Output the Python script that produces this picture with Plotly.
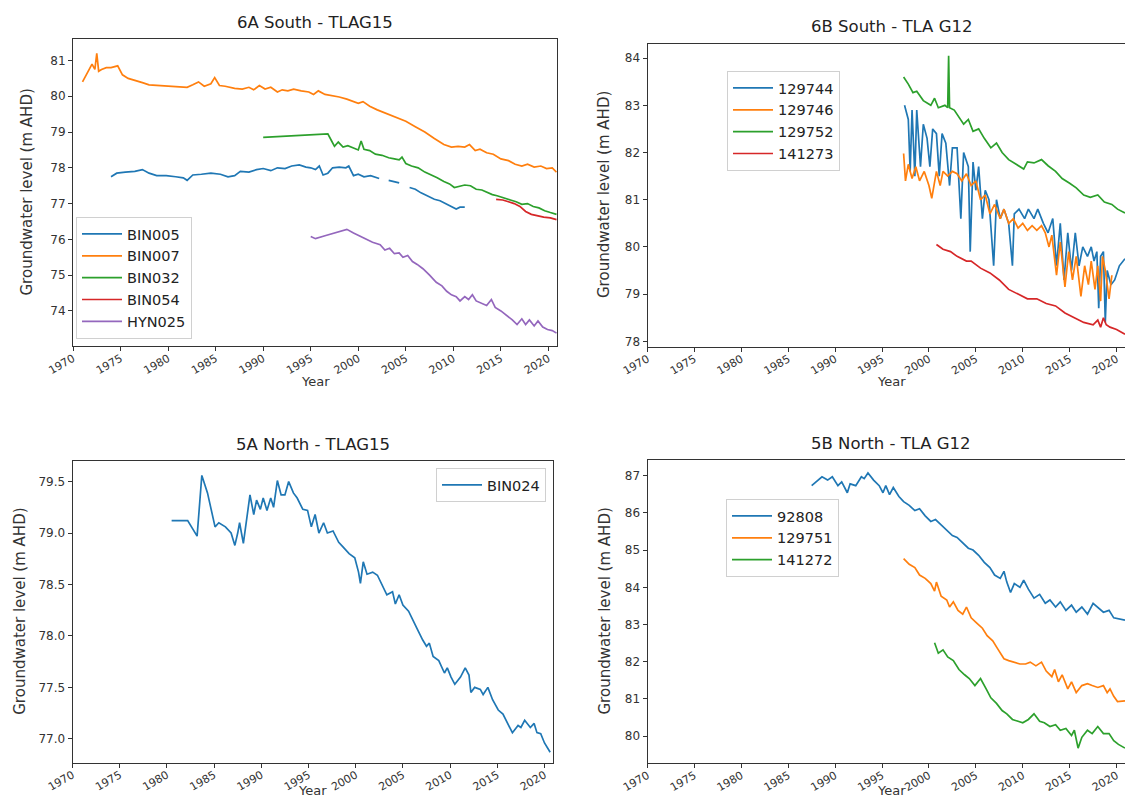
import plotly.graph_objects as go

# ---------------- 6A South - TLAG15 ----------------
bin005_year = [1974.0, 1974.6, 1975.5, 1976.5, 1977.3, 1978.0, 1978.8, 1979.8, 1980.8, 1981.6, 1982.0, 1982.6,
               1983.5, 1984.5, 1985.5, 1986.3, 1987.0, 1987.6, 1988.5, 1989.3, 1990.0, 1990.8, 1991.5, 1992.3,
               1993.0, 1993.8, 1994.5, 1995.0, 1995.5, 1995.9, 1996.3, 1996.8, 1997.3, 1998.0, 1998.7, 1999.0,
               1999.5, 2000.0, 2000.6, 2001.3, 2002.2, 2002.7, 2003.2, 2003.8, 2004.3, 2004.8, 2005.4, 2006.0,
               2006.6, 2007.3, 2008.0, 2008.6, 2009.3, 2009.8, 2010.3, 2010.7, 2011.2]
bin005_level = [77.75, 77.85, 77.88, 77.90, 77.95, 77.85, 77.78, 77.78, 77.75, 77.72, 77.65, 77.80,
                77.82, 77.85, 77.82, 77.75, 77.78, 77.90, 77.88, 77.95, 77.98, 77.92, 78.00, 77.98,
                78.05, 78.08, 78.02, 78.00, 77.95, 78.05, 77.80, 77.85, 78.00, 78.02, 78.00, 78.05,
                77.78, 77.82, 77.75, 77.78, 77.70, None, 77.65, 77.62, 77.58, None, 77.45, 77.40,
                77.30, 77.22, 77.12, 77.08, 76.98, 76.92, 76.85, 76.90, 76.90]

bin007_year = [1971.0, 1971.5, 1972.0, 1972.3, 1972.5, 1972.7, 1973.0, 1973.5, 1974.0, 1974.7, 1975.2, 1975.8,
               1976.5, 1977.3, 1978.0, 1979.0, 1980.0, 1981.0, 1982.0, 1982.6, 1983.2, 1983.8, 1984.5, 1984.9,
               1985.4, 1986.0, 1987.0, 1987.8, 1988.5, 1989.0, 1989.6, 1990.2, 1990.8, 1991.5, 1992.0, 1992.6,
               1993.2, 1994.0, 1994.8, 1995.3, 1995.8, 1996.5, 1997.3, 1998.0, 1998.8, 1999.5, 2000.0, 2000.5,
               2001.2, 2002.0, 2003.0, 2004.0, 2005.0, 2006.0, 2007.0, 2008.0, 2009.0, 2009.8, 2010.5, 2011.2,
               2011.7, 2012.3, 2012.8, 2013.5, 2014.2, 2015.0, 2015.8, 2016.5, 2017.2, 2017.8, 2018.5, 2019.2,
               2019.8, 2020.4, 2020.85]
bin007_level = [80.40, 80.65, 80.90, 80.75, 81.20, 80.70, 80.75, 80.80, 80.80, 80.85, 80.60, 80.50,
                80.45, 80.38, 80.32, 80.30, 80.28, 80.28, 80.25, 80.32, 80.40, 80.28, 80.35, 80.52,
                80.30, 80.28, 80.22, 80.20, 80.25, 80.18, 80.30, 80.20, 80.25, 80.12, 80.18, 80.15,
                80.20, 80.15, 80.12, 80.05, 80.15, 80.05, 80.02, 79.98, 79.92, 79.85, 79.80, 79.85,
                79.72, 79.62, 79.52, 79.40, 79.30, 79.15, 79.00, 78.82, 78.65, 78.58, 78.60, 78.58,
                78.65, 78.48, 78.52, 78.42, 78.38, 78.25, 78.20, 78.10, 78.05, 78.10, 78.02, 78.05,
                77.98, 78.00, 77.88]

bin032_year = [1990.0, 1992.0, 1994.0, 1996.0, 1996.8, 1997.2, 1997.5, 1997.9, 1998.4, 1998.9, 1999.5, 2000.0,
               2000.3, 2000.6, 2001.2, 2001.8, 2002.5, 2003.2, 2003.8, 2004.3, 2004.6, 2005.0, 2005.6, 2006.3,
               2007.0, 2007.7, 2008.3, 2009.0, 2009.6, 2010.1, 2010.7, 2011.2, 2011.8, 2012.4, 2013.0, 2013.6,
               2014.1, 2014.6, 2015.3, 2016.0, 2016.6, 2017.2, 2017.8, 2018.4, 2019.0, 2019.6, 2020.2, 2020.85]
bin032_level = [78.85, 78.88, 78.90, 78.93, 78.95, 78.75, 78.60, 78.72, 78.58, 78.62, 78.55, 78.50,
                78.75, 78.52, 78.48, 78.38, 78.35, 78.28, 78.25, 78.22, 78.30, 78.12, 78.05, 78.00,
                77.88, 77.80, 77.72, 77.62, 77.55, 77.45, 77.48, 77.52, 77.50, 77.40, 77.38, 77.30,
                77.25, 77.22, 77.15, 77.10, 77.05, 76.98, 77.00, 76.92, 76.88, 76.80, 76.75, 76.70]

bin054_year = [2014.5, 2015.2, 2015.8, 2016.4, 2017.0, 2017.6, 2018.2, 2018.8, 2019.5, 2020.2, 2020.85]
bin054_level = [77.12, 77.10, 77.05, 77.00, 76.92, 76.78, 76.70, 76.66, 76.62, 76.60, 76.55]

hyn025_year = [1995.0, 1995.5, 1996.5, 1997.5, 1998.3, 1998.8, 1999.5, 2000.5, 2001.5, 2002.3, 2002.8, 2003.3,
               2003.8, 2004.3, 2004.7, 2005.2, 2005.7, 2006.2, 2006.8, 2007.5, 2008.2, 2008.8, 2009.3, 2009.8,
               2010.3, 2010.7, 2011.2, 2011.6, 2012.0, 2012.4, 2013.0, 2013.5, 2014.0, 2014.4, 2015.0, 2015.6,
               2016.2, 2016.7, 2017.2, 2017.6, 2018.0, 2018.5, 2018.9, 2019.4, 2019.9, 2020.4, 2020.85]
hyn025_level = [76.08, 76.02, 76.10, 76.18, 76.25, 76.28, 76.18, 76.05, 75.92, 75.85, 75.70, 75.75,
                75.60, 75.62, 75.50, 75.55, 75.38, 75.30, 75.18, 75.00, 74.80, 74.70, 74.55, 74.45,
                74.40, 74.28, 74.40, 74.32, 74.45, 74.28, 74.22, 74.15, 74.32, 74.10, 74.00, 73.88,
                73.75, 73.62, 73.78, 73.62, 73.75, 73.58, 73.72, 73.55, 73.48, 73.45, 73.38]

# ---------------- 6B South - TLA G12 ----------------
b129744_year = [1997.4, 1997.8, 1998.0, 1998.2, 1998.5, 1998.7, 1999.1, 1999.4, 1999.8, 2000.1, 2000.4, 2000.8,
                2001.1, 2001.4, 2001.8, 2002.2, 2002.5, 2003.0, 2003.4, 2003.7, 2004.2, 2004.4, 2004.7, 2005.0,
                2005.3, 2005.7, 2006.0, 2006.4, 2006.9, 2007.2, 2007.6, 2008.0, 2008.5, 2008.9, 2009.1, 2009.6,
                2010.2, 2010.6, 2011.2, 2011.6, 2012.2, 2012.7, 2013.2, 2013.6, 2014.0, 2014.4, 2014.8, 2015.2,
                2015.6, 2016.0, 2016.4, 2016.9, 2017.3, 2017.6, 2017.9, 2018.1, 2018.3, 2018.6, 2018.8, 2019.0,
                2019.4, 2019.8, 2020.3, 2020.9]
b129744_level = [83.00, 82.70, 81.60, 82.90, 81.50, 82.90, 81.70, 82.60, 82.30, 81.70, 82.50, 82.40,
                 81.50, 82.40, 82.20, 81.30, 82.10, 82.10, 80.60, 82.00, 81.70, 79.90, 81.80, 81.20,
                 81.70, 80.60, 81.20, 81.00, 79.60, 81.00, 80.60, 80.80, 80.50, 79.60, 80.70, 80.80,
                 80.60, 80.80, 80.60, 80.80, 80.50, 80.30, 80.60, 79.60, 80.50, 79.30, 80.30, 79.50,
                 80.30, 79.60, 80.00, 79.80, 80.00, 79.70, 79.90, 78.70, 79.80, 79.90, 78.40, 79.50,
                 79.20, 79.30, 79.60, 79.75]

b129746_year = [1997.3, 1997.5, 1997.8, 1998.2, 1998.6, 1999.0, 1999.5, 2000.0, 2000.3, 2000.8, 2001.2, 2001.5,
                2002.0, 2002.5, 2003.0, 2003.5, 2004.0, 2004.5, 2005.0, 2005.5, 2006.0, 2006.5, 2007.0, 2007.6,
                2008.0, 2008.5, 2009.0, 2009.5, 2010.0, 2010.5, 2011.0, 2011.5, 2012.0, 2012.4, 2012.8, 2013.1,
                2013.6, 2014.0, 2014.5, 2014.9, 2015.3, 2015.7, 2016.2, 2016.6, 2017.0, 2017.3, 2017.7, 2018.0,
                2018.3, 2018.5, 2018.8, 2019.2, 2019.5]
b129746_level = [81.98, 81.40, 81.75, 81.45, 81.70, 81.40, 81.60, 81.30, 81.03, 81.60, 81.30, 81.60,
                 81.50, 81.60, 81.55, 81.40, 81.55, 81.30, 81.40, 81.00, 81.10, 80.70, 80.90, 80.60,
                 80.80, 80.50, 80.60, 80.40, 80.50, 80.35, 80.45, 80.35, 80.45, 80.30, 80.00, 80.25,
                 79.40, 80.10, 79.15, 79.90, 79.30, 79.80, 78.95, 79.60, 79.20, 79.70, 79.10, 79.60,
                 78.85, 79.80, 79.50, 78.90, 79.40]

b129752_year = [1997.3, 1997.8, 1998.3, 1998.7, 1999.4, 2000.2, 2000.6, 2001.0, 2001.7, 2002.0, 2002.1, 2002.2,
                2002.7, 2003.2, 2003.7, 2004.2, 2004.7, 2005.3, 2005.9, 2006.6, 2007.2, 2007.8, 2008.5, 2009.3,
                2010.1, 2010.5, 2011.2, 2012.0, 2012.7, 2013.5, 2014.2, 2015.0, 2015.7, 2016.5, 2017.2, 2018.0,
                2018.7, 2019.5, 2020.1, 2020.9]
b129752_level = [83.60, 83.45, 83.27, 83.30, 83.10, 83.00, 83.15, 82.95, 83.00, 82.95, 84.05, 82.95,
                 82.90, 82.75, 82.60, 82.70, 82.45, 82.50, 82.30, 82.10, 82.20, 82.00, 81.85, 81.75,
                 81.65, 81.80, 81.78, 81.85, 81.72, 81.60, 81.45, 81.35, 81.25, 81.10, 81.05, 81.10,
                 80.95, 80.90, 80.80, 80.72]

b141273_year = [2000.8, 2001.5, 2002.3, 2003.0, 2004.0, 2004.5, 2005.5, 2006.5, 2007.5, 2008.5, 2009.5, 2010.5,
                2011.5, 2012.5, 2013.5, 2014.5, 2015.5, 2016.5, 2017.5, 2018.0, 2018.3, 2018.6, 2018.9, 2019.3,
                2020.0, 2020.9]
b141273_level = [80.05, 79.95, 79.90, 79.80, 79.70, 79.70, 79.55, 79.45, 79.30, 79.10, 79.00, 78.90,
                 78.90, 78.80, 78.75, 78.60, 78.50, 78.40, 78.35, 78.45, 78.30, 78.50, 78.35, 78.30,
                 78.25, 78.15]

# ---------------- 5A North - TLAG15 ----------------
bin024_year = [1980.5, 1982.2, 1983.2, 1983.7, 1984.3, 1985.1, 1985.5, 1986.2, 1986.8, 1987.2, 1987.5, 1987.7,
               1988.1, 1988.5, 1988.8, 1989.2, 1989.5, 1989.9, 1990.2, 1990.6, 1991.0, 1991.3, 1991.7, 1992.1,
               1992.5, 1992.9, 1993.4, 1993.8, 1994.4, 1994.9, 1995.3, 1995.7, 1996.1, 1996.6, 1997.0, 1997.6,
               1998.2, 1998.7, 1999.3, 1999.9, 2000.3, 2000.5, 2000.8, 2001.2, 2001.8, 2002.3, 2002.9, 2003.3,
               2003.9, 2004.2, 2004.6, 2005.0, 2005.6, 2006.0, 2006.5, 2007.1, 2007.5, 2007.8, 2008.2, 2008.8,
               2009.4, 2009.7, 2010.1, 2010.5, 2011.1, 2011.6, 2012.0, 2012.2, 2012.6, 2013.2, 2013.5, 2014.0,
               2014.5, 2015.1, 2015.6, 2016.2, 2016.6, 2017.2, 2017.5, 2017.9, 2018.5, 2018.9, 2019.2, 2019.6,
               2020.0, 2020.6]
bin024_level = [79.12, 79.12, 78.97, 79.56, 79.39, 79.06, 79.10, 79.06, 79.00, 78.88, 79.00, 79.10,
                78.90, 79.18, 79.37, 79.18, 79.32, 79.23, 79.34, 79.22, 79.34, 79.25, 79.51, 79.37,
                79.37, 79.50, 79.39, 79.34, 79.23, 79.22, 79.06, 79.18, 79.00, 79.10, 79.00, 79.02,
                78.91, 78.86, 78.80, 78.76, 78.62, 78.51, 78.72, 78.60, 78.62, 78.59, 78.48, 78.40,
                78.43, 78.31, 78.40, 78.30, 78.24, 78.17, 78.07, 77.96, 77.90, 77.93, 77.80, 77.76,
                77.64, 77.69, 77.60, 77.53, 77.60, 77.69, 77.62, 77.45, 77.50, 77.48, 77.43, 77.50,
                77.38, 77.28, 77.24, 77.13, 77.06, 77.13, 77.11, 77.18, 77.11, 77.15, 77.06, 77.05,
                76.96, 76.87]

# ---------------- 5B North - TLA G12 ----------------
b92808_year = [1987.5, 1988.0, 1988.6, 1989.2, 1989.7, 1990.3, 1990.7, 1991.3, 1991.6, 1992.2, 1992.8, 1993.1,
               1993.5, 1994.1, 1994.7, 1995.1, 1995.4, 1995.8, 1996.2, 1996.8, 1997.3, 1997.9, 1998.5, 1999.0,
               1999.6, 2000.2, 2000.7, 2001.3, 2001.9, 2002.5, 2003.0, 2003.6, 2004.2, 2004.7, 2005.3, 2005.9,
               2006.5, 2007.0, 2007.6, 2008.0, 2008.3, 2008.7, 2009.1, 2009.7, 2010.1, 2010.6, 2011.2, 2011.8,
               2012.4, 2012.9, 2013.5, 2014.0, 2014.6, 2015.2, 2015.7, 2016.3, 2016.9, 2017.5, 2018.0, 2018.6,
               2019.2, 2019.7, 2020.9]
b92808_level = [86.73, 86.83, 86.97, 86.88, 86.97, 86.73, 86.83, 86.54, 86.78, 86.73, 86.97, 86.92,
                87.07, 86.88, 86.73, 86.54, 86.73, 86.49, 86.68, 86.44, 86.30, 86.20, 86.06, 86.11,
                85.92, 85.77, 85.82, 85.68, 85.53, 85.39, 85.34, 85.20, 85.05, 85.00, 84.86, 84.67,
                84.53, 84.33, 84.24, 84.43, 84.14, 83.86, 84.10, 84.00, 84.19, 83.95, 83.71, 83.81,
                83.57, 83.66, 83.47, 83.61, 83.38, 83.52, 83.33, 83.47, 83.28, 83.57, 83.47, 83.33,
                83.38, 83.18, 83.12]

b129751_year = [1997.3, 1997.9, 1998.5, 1999.0, 1999.6, 2000.2, 2000.6, 2000.8, 2001.3, 2001.9, 2002.2, 2002.6,
                2003.1, 2003.6, 2004.0, 2004.5, 2005.1, 2005.7, 2006.2, 2006.8, 2007.4, 2008.0, 2008.5, 2009.1,
                2009.7, 2010.3, 2010.8, 2011.4, 2012.0, 2012.5, 2013.1, 2013.4, 2013.8, 2014.2, 2014.8, 2015.2,
                2015.7, 2016.3, 2016.9, 2017.4, 2018.0, 2018.6, 2019.0, 2019.3, 2019.7, 2020.1, 2020.9]
b129751_level = [84.77, 84.62, 84.53, 84.33, 84.24, 84.10, 83.90, 84.14, 83.76, 83.66, 83.47, 83.61,
                 83.38, 83.28, 83.47, 83.18, 83.04, 82.90, 82.70, 82.56, 82.32, 82.08, 82.03, 81.99,
                 81.94, 81.94, 81.99, 81.89, 81.99, 81.75, 81.60, 81.79, 81.46, 81.65, 81.27, 81.46,
                 81.17, 81.36, 81.41, 81.36, 81.31, 81.36, 81.17, 81.27, 81.07, 80.93, 80.95]

b141272_year = [2000.6, 2001.0, 2001.5, 2002.0, 2002.6, 2003.2, 2003.8, 2004.3, 2004.9, 2005.5, 2006.1, 2006.6,
                2007.2, 2007.8, 2008.3, 2008.9, 2009.5, 2010.0, 2010.6, 2011.2, 2011.8, 2012.3, 2012.9, 2013.5,
                2014.0, 2014.6, 2015.2, 2015.5, 2015.9, 2016.3, 2016.9, 2017.4, 2018.0, 2018.6, 2019.2, 2019.7,
                2020.2, 2020.9]
b141272_level = [82.51, 82.23, 82.32, 82.13, 82.03, 81.79, 81.65, 81.55, 81.36, 81.55, 81.27, 81.03,
                 80.88, 80.69, 80.60, 80.45, 80.40, 80.36, 80.45, 80.60, 80.40, 80.36, 80.26, 80.31,
                 80.16, 80.21, 80.02, 80.16, 79.68, 79.97, 80.16, 80.07, 80.26, 80.07, 80.07, 79.88,
                 79.78, 79.68]

tick_years = [1970, 1975, 1980, 1985, 1990, 1995, 2000, 2005, 2010, 2015, 2020]

C = ['#1f77b4', '#ff7f0e', '#2ca02c', '#d62728', '#9467bd']
W, H = 1125, 799

panels = [
    dict(k='', title='6A South - TLAG15', x0=73, x1=557, y0=39, y1=346, yr=[73.02, 81.6], fmt='d',
         ylab_x=27, leg='legend', legxy=(76, 217, 'left'), year_y=381),
    dict(k='2', title='6B South - TLA G12', x0=647.5, x1=1125, y0=43.5, y1=346.5, yr=[77.89, 84.31], fmt='d',
         ylab_x=604, leg='legend2', legxy=(727, 71, 'left'), year_y=381),
    dict(k='3', title='5A North - TLAG15', x0=72.5, x1=553, y0=461, y1=762.5, yr=[76.77, 79.70], fmt='.1f',
         ylab_x=20, leg='legend3', legxy=(546, 468, 'right'), year_y=790),
    dict(k='4', title='5B North - TLA G12', x0=647.5, x1=1125, y0=460, y1=763, yr=[79.28, 87.42], fmt='d',
         ylab_x=604, leg='legend4', legxy=(726, 499, 'left'), year_y=790),
]

series = [
    (0, 'BIN005', bin005_year, bin005_level, C[0]),
    (0, 'BIN007', bin007_year, bin007_level, C[1]),
    (0, 'BIN032', bin032_year, bin032_level, C[2]),
    (0, 'BIN054', bin054_year, bin054_level, C[3]),
    (0, 'HYN025', hyn025_year, hyn025_level, C[4]),
    (1, '129744', b129744_year, b129744_level, C[0]),
    (1, '129746', b129746_year, b129746_level, C[1]),
    (1, '129752', b129752_year, b129752_level, C[2]),
    (1, '141273', b141273_year, b141273_level, C[3]),
    (2, 'BIN024', bin024_year, bin024_level, C[0]),
    (3, '92808', b92808_year, b92808_level, C[0]),
    (3, '129751', b129751_year, b129751_level, C[1]),
    (3, '141272', b141272_year, b141272_level, C[2]),
]

fig = go.Figure()
for pi, name, xs, ys, col in series:
    p = panels[pi]
    fig.add_trace(go.Scatter(x=xs, y=ys, mode='lines', name=name, connectgaps=False,
                             line=dict(color=col, width=1.7),
                             xaxis='x' + p['k'], yaxis='y' + p['k'], legend=p['leg']))

font_family = 'DejaVu Sans, Arial, sans-serif'
layout = dict(width=W, height=H, margin=dict(l=0, r=0, t=0, b=0, autoexpand=False),
              paper_bgcolor='white', plot_bgcolor='white',
              font=dict(family=font_family, size=12, color='#222'),
              showlegend=True, annotations=[])

for p in panels:
    k = p['k']
    xd = [p['x0'] / W, min(p['x1'] / W, 1.0)]
    yd = [1 - p['y1'] / H, 1 - p['y0'] / H]
    axcommon = dict(showline=True, mirror=True, linecolor='#333', linewidth=1, ticks='outside',
                    ticklen=4, tickwidth=1, tickcolor='#333', showgrid=False, zeroline=False,
                    automargin=False)
    layout['xaxis' + k] = dict(domain=xd, range=[1970, 2020.9], tickmode='array', tickvals=tick_years,
                               ticktext=[str(t) for t in tick_years], tickangle=-30,
                               ticklabelstandoff=-3, tickfont=dict(size=11, color='#333'),
                               anchor='y' + k, **axcommon)
    yax = dict(domain=yd, range=p['yr'], anchor='x' + k, tickfont=dict(size=12, color='#333'), **axcommon)
    if p['fmt'] == '.1f':
        yax['tickformat'] = '.1f'
        yax['dtick'] = 0.5
    else:
        yax['dtick'] = 1
    layout['yaxis' + k] = yax
    lx, ly, anc = p['legxy']
    layout[p['leg']] = dict(x=lx / W, y=1 - ly / H, xref='paper', yref='paper',
                            xanchor=anc, yanchor='top',
                            bgcolor='rgba(255,255,255,0.85)', bordercolor='#d0d0d0', borderwidth=1,
                            font=dict(size=14.5, color='#222'), itemwidth=40, tracegroupgap=0)
    cx = (xd[0] + xd[1]) / 2 if p['x1'] < W else (p['x0'] + 1135) / 2 / W
    layout['annotations'].append(dict(text=p['title'], x=cx, y=yd[1], xref='paper', yref='paper',
                                      xanchor='center', yanchor='bottom', yshift=5, showarrow=False,
                                      font=dict(size=16.5, color='#222')))
    layout['annotations'].append(dict(text='Groundwater level (m AHD)', x=p['ylab_x'] / W,
                                      y=(yd[0] + yd[1]) / 2, xref='paper', yref='paper',
                                      xanchor='center', yanchor='middle', textangle=-90, showarrow=False,
                                      font=dict(size=15, color='#333')))
    layout['annotations'].append(dict(text='Year', x=cx, y=1 - p['year_y'] / H, xref='paper', yref='paper',
                                      xanchor='center', yanchor='middle', showarrow=False,
                                      font=dict(size=13, color='#333')))

fig.update_layout(template='none')
fig.update_layout(**layout)
fig.write_html('out.html')
